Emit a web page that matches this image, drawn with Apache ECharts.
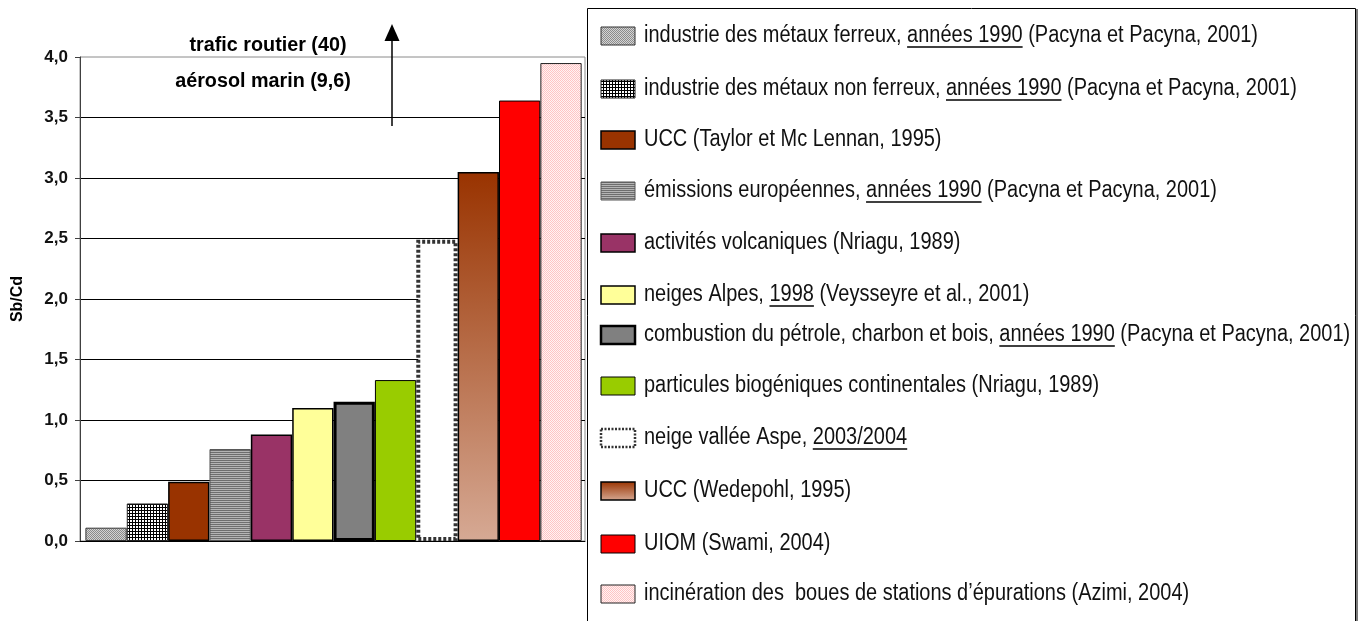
<!DOCTYPE html>
<html>
<head>
<meta charset="utf-8">
<script src="https://cdn.jsdelivr.net/npm/echarts@6/dist/echarts.min.js"></script>
<style>
  html, body { margin: 0; padding: 0; background: #fff; }
  #chart { width: 1360px; height: 621px; }
</style>
</head>
<body>
<div id="chart"></div>
<script>
// Sb/Cd ratios of the different sources, smallest to largest
const categories = [
  'industrie des métaux ferreux',
  'industrie des métaux non ferreux',
  'UCC (Taylor et Mc Lennan)',
  'émissions européennes',
  'activités volcaniques',
  'neiges Alpes',
  'combustion du pétrole, charbon et bois',
  'particules biogéniques continentales',
  'neige vallée Aspe',
  'UCC (Wedepohl)',
  'UIOM',
  'incinération des boues de stations d\'épurations'
];
const values = [0.11, 0.31, 0.49, 0.76, 0.88, 1.10, 1.15, 1.33, 2.49, 3.05, 3.64, 3.95];

// Legend wording; a leading "_" marks an underlined piece
const labelParts = [
  ['industrie des métaux ferreux, ', '_années 1990', ' (Pacyna et Pacyna, 2001)'],
  ['industrie des métaux non ferreux, ', '_années 1990', ' (Pacyna et Pacyna, 2001)'],
  ['UCC (Taylor et Mc Lennan, 1995)'],
  ['émissions européennes, ', '_années 1990', ' (Pacyna et Pacyna, 2001)'],
  ['activités volcaniques (Nriagu, 1989)'],
  ['neiges Alpes, ', '_1998', ' (Veysseyre et al., 2001)'],
  ['combustion du pétrole, charbon et bois, ', '_années 1990', ' (Pacyna et Pacyna, 2001)'],
  ['particules biogéniques continentales (Nriagu, 1989)'],
  ['neige vallée Aspe, ', '_2003/2004'],
  ['UCC (Wedepohl, 1995)'],
  ['UIOM (Swami, 2004)'],
  ['incinération des  boues de stations d\u2019épurations (Azimi, 2004)']
];

// Sources lying far above the axis range
const offScale = ['trafic routier (40)', 'aérosol marin (9,6)'];

const yMin = 0, yMax = 4, yStep = 0.5;

// ---------- fills ----------
function tile(w, h, paint) {
  const c = document.createElement('canvas');
  c.width = w; c.height = h;
  paint(c.getContext('2d'));
  return { image: c, repeat: 'repeat' };
}
const dotted = tile(2, 2, g => {
  g.fillStyle = '#d4d4d4'; g.fillRect(0, 0, 2, 2);
  g.fillStyle = '#8c8c8c'; g.fillRect(0, 0, 1, 1); g.fillRect(1, 1, 1, 1);
});
const grid = tile(3, 3, g => {
  g.fillStyle = '#ffffff'; g.fillRect(0, 0, 3, 3);
  g.fillStyle = '#000000'; g.fillRect(0, 0, 3, 1); g.fillRect(0, 0, 1, 3);
});
const stripes = tile(1, 2, g => {
  g.fillStyle = '#6e6e6e'; g.fillRect(0, 0, 1, 1);
  g.fillStyle = '#b4b4b4'; g.fillRect(0, 1, 1, 1);
});
const pinkDots = tile(2, 2, g => {
  g.fillStyle = '#fff3f3'; g.fillRect(0, 0, 2, 2);
  g.fillStyle = '#ffc4c4'; g.fillRect(0, 0, 1, 1); g.fillRect(1, 1, 1, 1);
});
const earthFade = new echarts.graphic.LinearGradient(0, 0, 0, 1, [
  { offset: 0, color: '#993300' },
  { offset: 1, color: '#d6a994' }
]);

const styles = [
  { color: dotted,    borderColor: '#333', borderWidth: 1 },
  { color: grid,      borderColor: '#222', borderWidth: 1 },
  { color: '#993300', borderColor: '#000', borderWidth: 1.5 },
  { color: stripes,   borderColor: '#555', borderWidth: 1 },
  { color: '#993366', borderColor: '#000', borderWidth: 1.5 },
  { color: '#ffff99', borderColor: '#000', borderWidth: 1.5 },
  { color: '#808080', borderColor: '#000', borderWidth: 3 },
  { color: '#99cc00', borderColor: '#000', borderWidth: 1 },
  { color: '#ffffff', borderColor: '#333', borderWidth: 4, borderType: [3, 2] },
  { color: earthFade, borderColor: '#000', borderWidth: 1.5 },
  { color: '#ff0000', borderColor: '#000', borderWidth: 1 },
  { color: pinkDots,  borderColor: '#222', borderWidth: 1 }
];

// ---------- fonts ----------
const NARROW = '"Liberation Sans Narrow", "Arial Narrow", "Liberation Sans", Arial, sans-serif';
const meter = document.createElement('canvas').getContext('2d');
function textWidth(str, size, weight) {
  meter.font = (weight || 'normal') + ' ' + size + 'px ' + NARROW;
  return meter.measureText(str).width;
}

const chart = echarts.init(document.getElementById('chart'), null, { renderer: 'canvas' });

// ---------- legend (drawn as graphics) ----------
const LEG_SIZE = 23;
const legX = 644;
const rowY = [36, 89, 140, 191, 243, 295, 335, 386, 438, 491, 544, 594];
const refLine = labelParts[0].map(p => p.replace(/^_/, '')).join('');
const legScale = 614 / textWidth(refLine, LEG_SIZE);

const graphics = [];
graphics.push({
  type: 'rect', silent: true, z: 1,
  shape: { x: 587.5, y: 8.5, width: 768, height: 640 },
  style: { fill: '#fff', stroke: '#000', lineWidth: 1 }
});
graphics.push({
  type: 'line', silent: true, z: 1,
  shape: { x1: 1357, y1: 9, x2: 1357, y2: 621 },
  style: { stroke: '#7a7a7a', lineWidth: 2 }
});

labelParts.forEach((parts, i) => {
  const y = rowY[i];
  const s = styles[i];
  graphics.push({
    type: 'rect', silent: true, z: 2,
    shape: { x: 601, y: y - 9, width: 34, height: 18 },
    style: {
      fill: s.color, stroke: s.borderColor,
      lineWidth: Math.min(s.borderWidth, 2.5),
      lineDash: s.borderType ? [2, 1.5] : null
    }
  });
  const children = [];
  let cx = 0;
  parts.forEach(p => {
    const under = p.charAt(0) === '_';
    const txt = under ? p.slice(1) : p;
    const w = textWidth(txt, LEG_SIZE);
    children.push({
      type: 'text', silent: true, z: 3,
      style: {
        text: txt, x: cx, y: 0, fill: '#111',
        fontSize: LEG_SIZE, fontFamily: NARROW,
        verticalAlign: 'middle', align: 'left'
      }
    });
    if (under) {
      children.push({
        type: 'line', silent: true, z: 3,
        shape: { x1: cx, y1: 11, x2: cx + w, y2: 11 },
        style: { stroke: '#000', lineWidth: 1.6 }
      });
    }
    cx += w;
  });
  graphics.push({
    type: 'group', x: legX, y: y, scaleX: legScale, z: 3, children: children
  });
});

// ---------- off-scale notes with arrow ----------
const NOTE_SIZE = 20;
const noteScale = 157 / textWidth(offScale[0], NOTE_SIZE, 'bold');
[[268, 45], [263, 81]].forEach((pos, i) => {
  graphics.push({
    type: 'text', silent: true, z: 5,
    x: pos[0], y: pos[1], scaleX: noteScale,
    style: {
      text: offScale[i], x: 0, y: 0, fill: '#000',
      fontSize: NOTE_SIZE, fontWeight: 'bold', fontFamily: NARROW,
      align: 'center', verticalAlign: 'middle'
    }
  });
});
graphics.push({
  type: 'line', silent: true, z: 5,
  shape: { x1: 392, y1: 126, x2: 392, y2: 38 },
  style: { stroke: '#000', lineWidth: 1.5 }
});
graphics.push({
  type: 'polygon', silent: true, z: 5,
  shape: { points: [[392, 24], [384.5, 41], [399.5, 41]] },
  style: { fill: '#000' }
});

// ---------- chart ----------
// Bars sit at the centre of slot i (i + 0.5) on a value x axis whose
// range leaves the small side margins of the plot.
chart.setOption({
  backgroundColor: '#ffffff',
  animation: false,
  grid: {
    left: 80, top: 57, width: 505, height: 484,
    show: true, borderColor: '#8a8a8a', borderWidth: 1, backgroundColor: 'transparent'
  },
  xAxis: {
    type: 'value',
    min: -0.13, max: 12.08,
    axisLine: { show: true, onZero: false, lineStyle: { color: '#000', width: 1 } },
    axisTick: { show: false },
    axisLabel: { show: false },
    splitLine: { show: false }
  },
  yAxis: {
    type: 'value',
    min: yMin, max: yMax, interval: yStep,
    name: 'Sb/Cd',
    nameLocation: 'middle',
    nameGap: 54,
    nameRotate: 90,
    nameTextStyle: { fontSize: 16, fontWeight: 'bold', color: '#000', fontFamily: NARROW },
    axisLine: { show: true, onZero: false, lineStyle: { color: '#404040', width: 1 } },
    axisTick: { show: true, length: 5, inside: false, lineStyle: { color: '#404040' } },
    axisLabel: {
      fontSize: 17, fontWeight: 'bold', color: '#111', fontFamily: NARROW, margin: 12,
      formatter: v => v.toFixed(1).replace('.', ',')
    },
    splitLine: { show: true, showMaxLine: false, lineStyle: { color: '#000', width: 1 } }
  },
  series: [{
    type: 'bar',
    name: 'Sb/Cd',
    barWidth: 41.3,
    data: values.map((v, i) => ({ value: [i + 0.5, v], name: categories[i], itemStyle: styles[i] })),
    label: { show: false },
    z: 3
  }],
  graphic: graphics
});
</script>
</body>
</html>
